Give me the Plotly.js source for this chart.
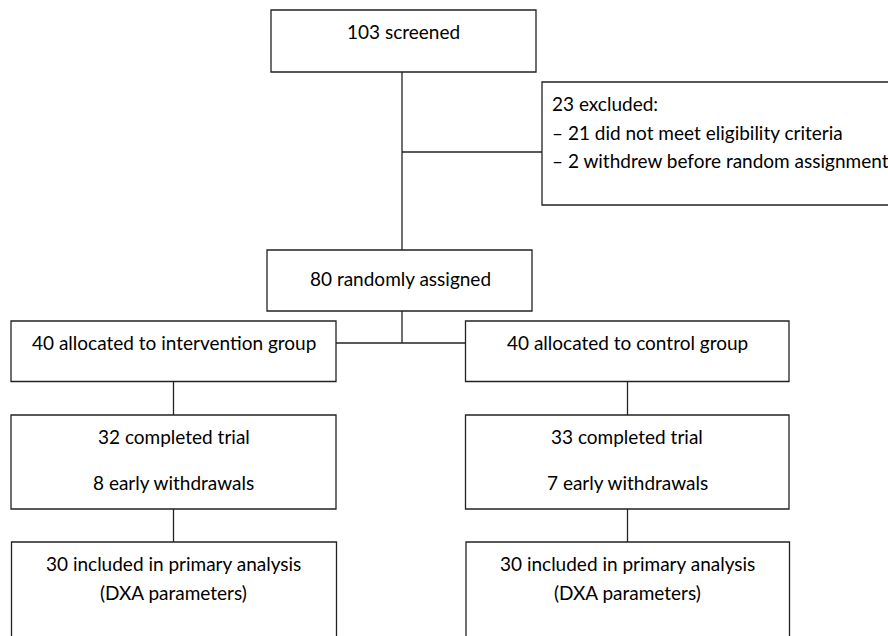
<!DOCTYPE html>
<html>
<head>
<meta charset="utf-8">
<script src="https://cdn.plot.ly/plotly-3.0.1.min.js"></script>
<style>html,body{margin:0;padding:0;background:#fff;}#chart{width:888px;height:636px;}</style>
</head>
<body>
<div id="chart"></div>
<script>
// ---- data ----
var screened = 103;
var excludedTotal = 23;
var excludedReasons = ["did not meet eligibility criteria", "withdrew before random assignment"];
var excludedCounts = [21, 2];
var randomized = 80;
var groups = ["intervention", "control"];
var allocated = [40, 40];
var completed = [32, 33];
var withdrawals = [8, 7];
var analysed = [30, 30];
var analysisNote = "(DXA parameters)";

// ---- layout geometry (pixels, y down) ----
var LW = 1.3, LC = "#222";
var FONT = {family: "Lato, 'Open Sans', sans-serif", size: 19, color: "#000"};
var shapes = [], annotations = [];
function box(x0, y0, x1, y1) {
  shapes.push({type: "rect", xref: "x", yref: "y", x0: x0, y0: y0, x1: x1, y1: y1,
    line: {color: LC, width: LW}, fillcolor: "rgba(0,0,0,0)"});
}
function line(x0, y0, x1, y1) {
  shapes.push({type: "line", xref: "x", yref: "y", x0: x0, y0: y0, x1: x1, y1: y1,
    line: {color: LC, width: LW}});
}
function txt(x, y, s, anchor) {
  annotations.push({xref: "x", yref: "y", x: x, y: y, text: s, showarrow: false,
    xanchor: anchor || "center", yanchor: "middle", font: FONT});
}

// top
box(271, 10, 536, 72);
txt(403, 31, screened + " screened");
line(402, 72, 402, 250);
// excluded
box(542, 82, 900, 205);
line(402, 152, 542, 152);
txt(550, 103, excludedTotal + " excluded:", "left");
for (var i = 0; i < excludedReasons.length; i++) {
  txt(550, 132 + i * 28, "\u2013 " + excludedCounts[i] + " " + excludedReasons[i], "left");
}
// randomized
box(267, 250, 532, 311);
txt(400, 278, randomized + " randomly assigned");
line(402, 311, 402, 343);
line(336, 343, 465, 343);

var cols = [[11, 336, 173.5], [465.5, 789, 627.5]];
for (var g = 0; g < groups.length; g++) {
  var c = cols[g], cx = (c[0] + c[1]) / 2;
  box(c[0], 321, c[1], 381.5);
  txt(cx, 342, allocated[g] + " allocated to " + groups[g] + " group");
  line(c[2], 381.5, c[2], 415);
  box(c[0], 415, c[1], 509);
  txt(cx, 436, completed[g] + " completed trial");
  txt(cx, 482, withdrawals[g] + " early withdrawals");
  line(c[2], 509, c[2], 542);
  box(c[0] + 0.5, 542, c[1] + 0.5, 660);
  txt(cx, 563, analysed[g] + " included in primary analysis");
  txt(cx, 592, analysisNote);
}

var layout = {
  width: 888, height: 636,
  margin: {l: 0, r: 0, t: 0, b: 0},
  paper_bgcolor: "#fff", plot_bgcolor: "#fff",
  xaxis: {range: [0, 888], visible: false, fixedrange: true},
  yaxis: {range: [636, 0], visible: false, fixedrange: true},
  shapes: shapes, annotations: annotations, showlegend: false
};
Plotly.newPlot("chart", [], layout, {staticPlot: true, displayModeBar: false});
</script>
</body>
</html>
